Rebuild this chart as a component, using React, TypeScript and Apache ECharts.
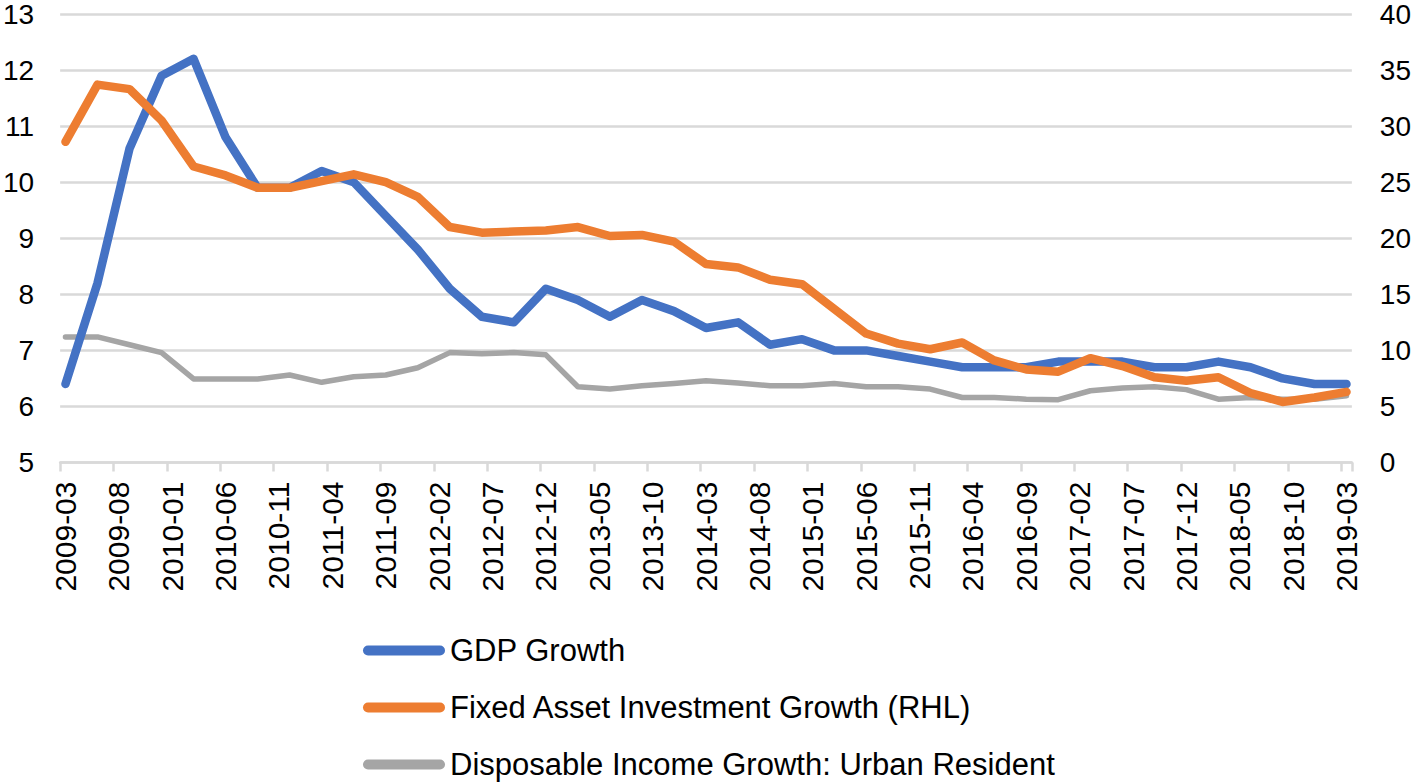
import React, { useEffect, useRef } from "react";
import * as echarts from "echarts";

// Quarterly observation dates
const quarters: string[] = [
  "2009-03", "2009-06", "2009-09", "2009-12",
  "2010-03", "2010-06", "2010-09", "2010-12",
  "2011-03", "2011-06", "2011-09", "2011-12",
  "2012-03", "2012-06", "2012-09", "2012-12",
  "2013-03", "2013-06", "2013-09", "2013-12",
  "2014-03", "2014-06", "2014-09", "2014-12",
  "2015-03", "2015-06", "2015-09", "2015-12",
  "2016-03", "2016-06", "2016-09", "2016-12",
  "2017-03", "2017-06", "2017-09", "2017-12",
  "2018-03", "2018-06", "2018-09", "2018-12",
  "2019-03",
];

// GDP Growth (left axis)
const gdpGrowth: number[] = [
  6.4, 8.2, 10.6, 11.9,
  12.2, 10.8, 9.9, 9.9,
  10.2, 10.0, 9.4, 8.8,
  8.1, 7.6, 7.5, 8.1,
  7.9, 7.6, 7.9, 7.7,
  7.4, 7.5, 7.1, 7.2,
  7.0, 7.0, 6.9, 6.8,
  6.7, 6.7, 6.7, 6.8,
  6.8, 6.8, 6.7, 6.7,
  6.8, 6.7, 6.5, 6.4,
  6.4,
];

// Fixed Asset Investment Growth (right axis)
const faiGrowth: number[] = [
  28.6, 33.7, 33.3, 30.5,
  26.4, 25.6, 24.5, 24.5,
  25.1, 25.7, 25.0, 23.7,
  21.0, 20.5, 20.6, 20.7,
  21.0, 20.2, 20.3, 19.7,
  17.7, 17.4, 16.3, 15.9,
  13.7, 11.5, 10.6, 10.1,
  10.7, 9.1, 8.3, 8.1,
  9.3, 8.6, 7.6, 7.3,
  7.6, 6.2, 5.4, 5.8,
  6.3,
];

// Disposable Income Growth: Urban Resident (left axis)
const incomeGrowth: number[] = [
  7.24, 7.24, 7.1, 6.96,
  6.49, 6.49, 6.49, 6.56,
  6.43, 6.53, 6.56, 6.69,
  6.96, 6.94, 6.96, 6.92,
  6.35, 6.31, 6.37, 6.41,
  6.46, 6.42, 6.37, 6.37,
  6.41, 6.35, 6.35, 6.31,
  6.16, 6.16, 6.13, 6.12,
  6.28, 6.33, 6.35, 6.3,
  6.13, 6.16, 6.13, 6.13,
  6.19,
];

const seriesNames = [
  "GDP Growth",
  "Fixed Asset Investment Growth (RHL)",
  "Disposable Income Growth: Urban Resident",
];

// Monthly date axis from first to last quarter
function buildMonths(start: string, end: string): string[] {
  const [sy, sm] = start.split("-").map(Number);
  const [ey, em] = end.split("-").map(Number);
  const out: string[] = [];
  let y = sy;
  let m = sm;
  while (y < ey || (y === ey && m <= em)) {
    out.push(`${y}-${String(m).padStart(2, "0")}`);
    m++;
    if (m > 12) {
      m = 1;
      y++;
    }
  }
  return out;
}

const months = buildMonths(quarters[0], quarters[quarters.length - 1]);

const FONT = "'Liberation Sans', Arial, Helvetica, sans-serif";
const GRID_COLOR = "#d9d9d9";

export default function App() {
  const ref = useRef<HTMLDivElement>(null);

  useEffect(() => {
    if (!ref.current) return;
    const chart = echarts.init(ref.current, undefined, { renderer: "svg" });

    const pair = (vals: number[]) => quarters.map((q, i) => [q, vals[i]]);
    const iconPath =
      "path://M5,0 L77,0 A5,5 0 0 1 77,10 L5,10 A5,5 0 0 1 5,0 Z";

    chart.setOption({
      animation: false,
      textStyle: { fontFamily: FONT },
      grid: { left: 58.5, right: 61, top: 12, bottom: 320.5, containLabel: false },
      legend: {
        orient: "vertical",
        left: 363,
        top: 635,
        padding: 0,
        itemGap: 26,
        itemWidth: 82,
        itemHeight: 10,
        icon: iconPath,
        itemStyle: { borderWidth: 0 },
        selectedMode: false,
        data: seriesNames,
        textStyle: { fontSize: 31, color: "#000", fontFamily: FONT, lineHeight: 31 },
      },
      xAxis: {
        type: "category",
        data: months,
        boundaryGap: true,
        axisLine: { show: true, lineStyle: { color: GRID_COLOR, width: 2.5 } },
        axisTick: {
          show: true,
          interval: 4,
          length: 9,
          lineStyle: { color: GRID_COLOR, width: 2.5 },
        },
        axisLabel: {
          interval: 4,
          rotate: 90,
          margin: 19,
          fontSize: 30,
          color: "#000",
          fontFamily: FONT,
        },
        splitLine: { show: false },
      },
      yAxis: [
        {
          type: "value",
          min: 5,
          max: 13,
          interval: 1,
          position: "left",
          axisLine: { show: false },
          axisTick: { show: false },
          axisLabel: { fontSize: 28, color: "#000", margin: 26, fontFamily: FONT },
          splitLine: { show: true, lineStyle: { color: GRID_COLOR, width: 2.5 } },
        },
        {
          type: "value",
          min: 0,
          max: 40,
          interval: 5,
          position: "right",
          axisLine: { show: false },
          axisTick: { show: false },
          axisLabel: { fontSize: 28, color: "#000", margin: 28, fontFamily: FONT },
          splitLine: { show: false },
        },
      ],
      series: [
        {
          name: seriesNames[2],
          type: "line",
          yAxisIndex: 0,
          data: pair(incomeGrowth),
          showSymbol: false,
          symbol: "none",
          color: "#A5A5A5",
          lineStyle: { color: "#A5A5A5", width: 5.5, cap: "round", join: "round" },
          z: 2,
        },
        {
          name: seriesNames[0],
          type: "line",
          yAxisIndex: 0,
          data: pair(gdpGrowth),
          showSymbol: false,
          symbol: "none",
          color: "#4472C4",
          lineStyle: { color: "#4472C4", width: 8.5, cap: "round", join: "round" },
          z: 3,
        },
        {
          name: seriesNames[1],
          type: "line",
          yAxisIndex: 1,
          data: pair(faiGrowth),
          showSymbol: false,
          symbol: "none",
          color: "#ED7D31",
          lineStyle: { color: "#ED7D31", width: 8.5, cap: "round", join: "round" },
          z: 4,
        },
      ],
    });

    return () => {
      chart.dispose();
    };
  }, []);

  return (
    <div
      ref={ref}
      style={{ position: "absolute", left: 0, top: 0, width: 1414, height: 783 }}
    />
  );
}
